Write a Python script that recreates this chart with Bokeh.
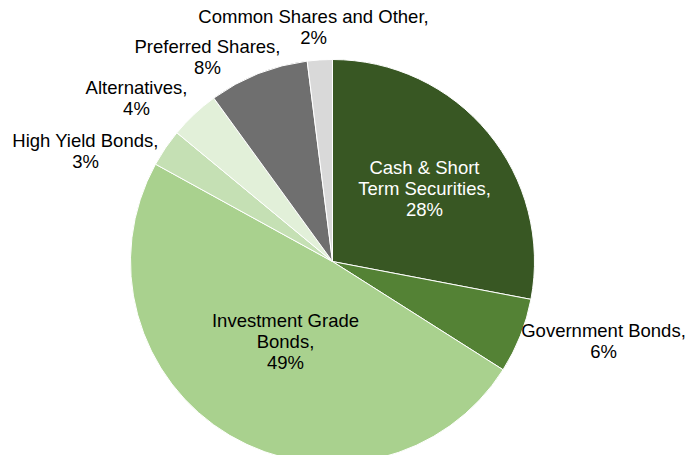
import math
from bokeh.plotting import figure
from bokeh.models import ColumnDataSource, Range1d
from bokeh.core.properties import value
from bokeh.embed import file_html
from bokeh.resources import INLINE

categories = ["Cash & Short\nTerm Securities", "Government Bonds", "Investment Grade\nBonds",
              "High Yield Bonds", "Alternatives", "Preferred Shares", "Common Shares and Other"]
percents = [28, 6, 49, 3, 4, 8, 2]
colors = ["#385723", "#548235", "#A9D18E", "#C5E0B4", "#E2F0D9", "#6F6F6F", "#D9D9D9"]
label_colors = ["white", "black", "black", "black", "black", "black", "black"]
# label anchor positions (layout, in pixels relative to pie centre)
label_x = [92, 271, -47, -247, -196, -125, -19]
label_y = [73, -79, -80, 111, 164, 205, 235]

total = sum(percents)
starts, ends = [], []
acc = 0.0
for v in percents:
    starts.append(math.pi / 2 - acc / total * 2 * math.pi)
    acc += v
    ends.append(math.pi / 2 - acc / total * 2 * math.pi)

labels = [f"{c},\n{v}%" for c, v in zip(categories, percents)]

src = ColumnDataSource(dict(start=starts, end=ends, color=colors))
lsrc = ColumnDataSource(dict(x=label_x, y=label_y, text=labels, tc=label_colors))

W, H = 685, 455
p = figure(width=W, height=H, output_backend="svg", toolbar_location=None,
           x_range=Range1d(-332, 353), y_range=Range1d(-194, 261),
           min_border=0, background_fill_color="white", border_fill_color="white")
p.axis.visible = False
p.grid.visible = False
p.outline_line_color = None

p.wedge(x=0, y=0, radius=202, radius_units="data", start_angle="start", end_angle="end",
        direction="clock", fill_color="color", line_color="white", line_width=1, source=src)
p.text(x="x", y="y", text="text", text_color="tc", source=lsrc,
       text_font=value("Liberation Sans"), text_font_size="18.5px",
       text_align="center", text_baseline="middle", text_line_height=1.0)

open("out.html", "w").write(file_html(p, INLINE))
